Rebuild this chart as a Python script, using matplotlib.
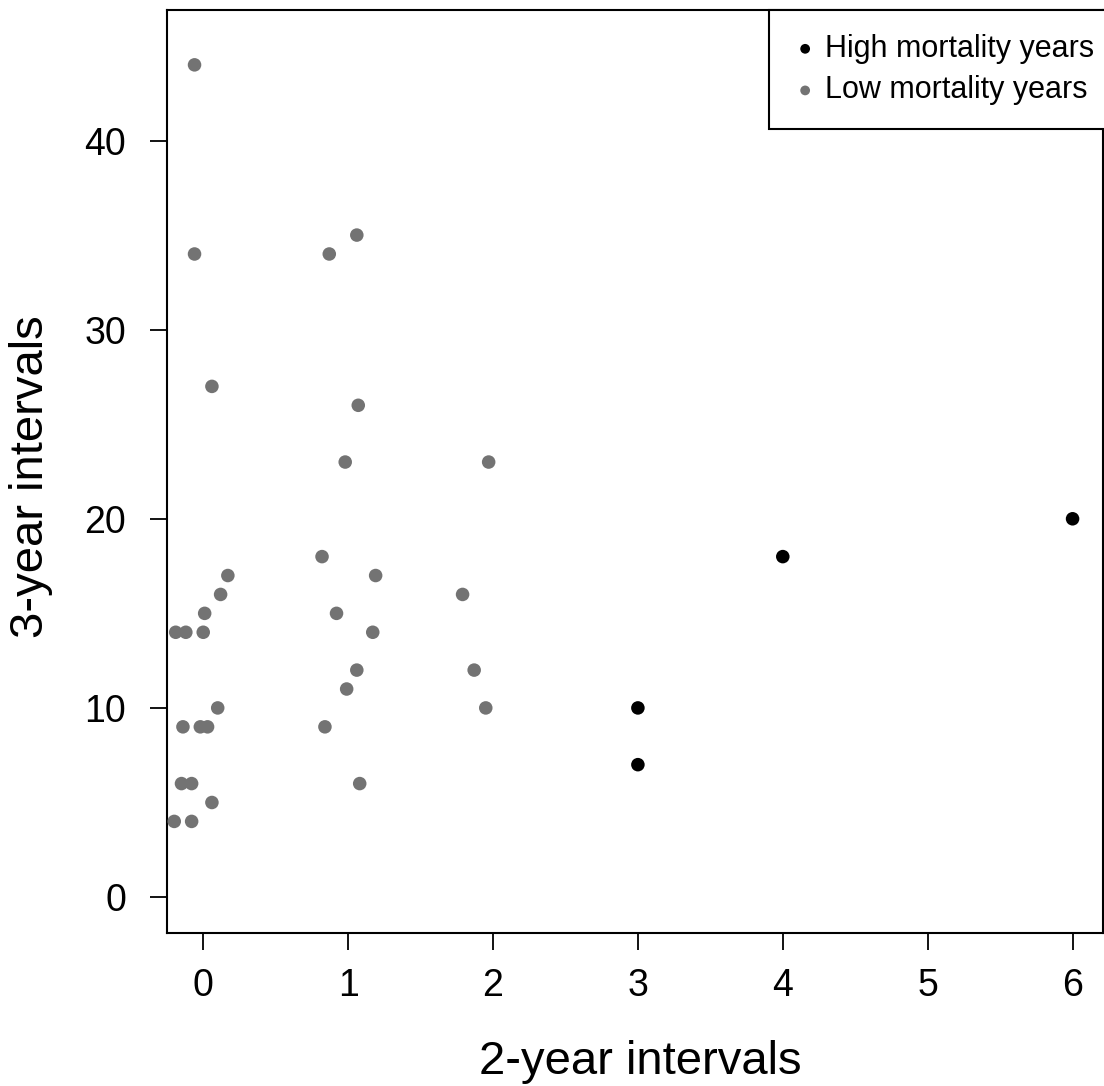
import matplotlib
matplotlib.use("Agg")
import matplotlib.pyplot as plt

plt.rcParams['font.family'] = ['Liberation Sans', 'DejaVu Sans']

# high mortality years
high_x = [3, 3, 4, 6]
high_y = [10, 7, 18, 20]

# low mortality years (jittered along x in the original)
low_x = [-0.06, -0.06, 0.06, 0.17, 0.12, 0.01, -0.19, -0.12, 0.0, 0.1,
         -0.14, -0.02, 0.03, -0.15, -0.08, 0.06, -0.2, -0.08,
         1.06, 0.87, 1.07, 0.98, 0.82, 1.19, 0.92, 1.17, 1.06, 0.99, 0.84, 1.08,
         1.97, 1.79, 1.87, 1.95]
low_y = [44, 34, 27, 17, 16, 15, 14, 14, 14, 10,
         9, 9, 9, 6, 6, 5, 4, 4,
         35, 34, 26, 23, 18, 17, 15, 14, 12, 11, 9, 6,
         23, 16, 12, 10]

x_ticks = [0, 1, 2, 3, 4, 5, 6]
y_ticks = [0, 10, 20, 30, 40]

fig = plt.figure(figsize=(11.04, 10.86), dpi=100)
ax = fig.add_axes([167 / 1104, 153 / 1086, 936 / 1104, 923 / 1086])

ax.scatter(high_x, high_y, s=95, color='black', edgecolors='none',
           label='High mortality years', zorder=3)
ax.scatter(low_x, low_y, s=95, color='#737373', edgecolors='none',
           label='Low mortality years', zorder=3)

ax.set_xlim(-0.25, 6.21)
ax.set_ylim(-1.9, 46.9)
ax.set_xticks(x_ticks)
ax.set_yticks(y_ticks)
ax.tick_params(axis='both', direction='out', length=12.5, width=1.3,
               labelsize=27)
ax.tick_params(axis='x', pad=13)
ax.tick_params(axis='y', pad=17)

for sp in ax.spines.values():
    sp.set_linewidth(1.5)
    sp.set_color('black')

fig.text(640 / 1104, 0.022, '2-year intervals', fontsize=34,
         ha='center', va='center')
fig.text(31 / 1104, (1086 - 477) / 1086, '3-year intervals', fontsize=34,
         ha='center', va='center', rotation=90)

leg = ax.legend(loc='upper right', bbox_to_anchor=(1.016, 1.0),
                borderaxespad=0, fontsize=22, markerscale=0.72,
                handlelength=0.8, handletextpad=0.25, borderpad=0.78,
                labelspacing=0.38, fancybox=False, framealpha=1)
leg.get_frame().set_edgecolor('black')
leg.get_frame().set_linewidth(1.5)

fig.savefig('out.png', dpi=100)
